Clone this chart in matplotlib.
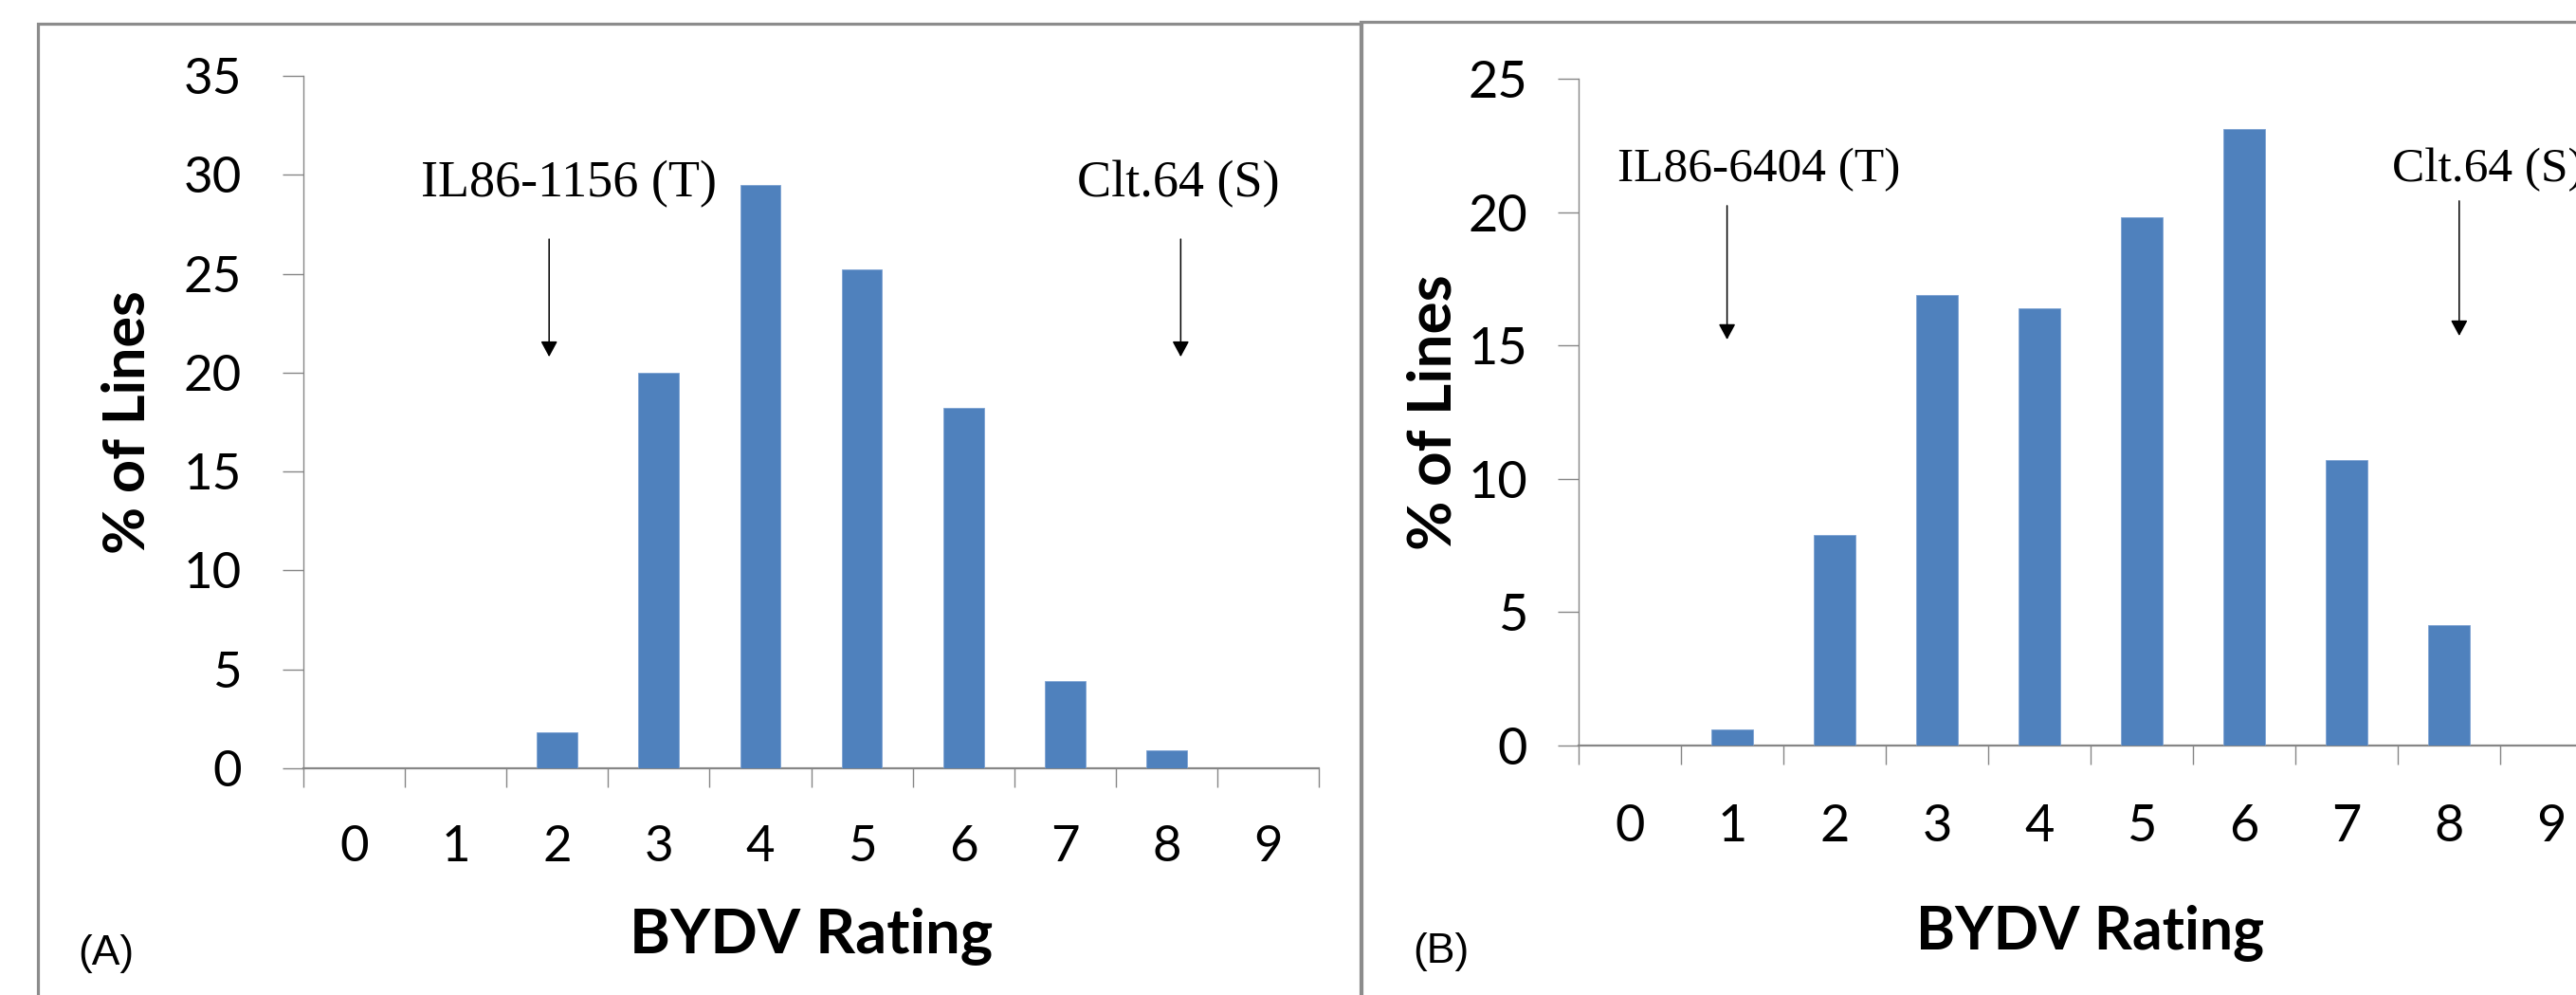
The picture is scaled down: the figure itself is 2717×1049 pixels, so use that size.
"""
BYDV rating distributions for two populations (A) and (B), Excel-style bar charts.
"""
import numpy as np
import matplotlib
matplotlib.use('Agg')
import matplotlib.pyplot as plt
from matplotlib.patches import Rectangle

# ---- data ----
ratings = ['0', '1', '2', '3', '4', '5', '6', '7', '8', '9']
pct_a   = [0, 0, 1.8, 20.0, 29.5, 25.2, 18.2, 4.4, 0.9, 0]
pct_b   = [0, 0.6, 7.9, 16.9, 16.4, 19.8, 23.1, 10.7, 4.5, 0]
ymax_a  = 35
ymax_b  = 25
parents_a = ['IL86-1156 (T)', 'Clt.64 (S)']
parents_b = ['IL86-6404 (T)', 'Clt.64 (S)']

W, H = 2717, 1049
BAR   = '#4F81BD'
AXIS  = '#868686'
FRAME = '#8c8c8c'
PT = 72 / 100   # pixels -> points

plt.rcParams['font.family'] = ['Lato', 'DejaVu Sans']

fig = plt.figure(figsize=(W / 100, H / 100), dpi=100)
fig.patch.set_facecolor('white')


def px_axes(left, top, right, bottom):
    """axes from pixel box (origin top-left)"""
    return fig.add_axes([left / W, 1 - bottom / H, (right - left) / W, (bottom - top) / H])


def draw_panel(ax, values, ymax, tick_fs, ypad, xpad):
    x = np.arange(len(values))
    ax.bar(x, values, width=0.40, color=BAR, edgecolor='#7ea3d3', linewidth=0.6, zorder=3)
    ax.set_xlim(-0.5, len(values) - 0.5)
    ax.set_ylim(0, ymax)

    for s in ('top', 'right'):
        ax.spines[s].set_visible(False)
    ax.spines['left'].set_color(AXIS)
    ax.spines['left'].set_linewidth(1.0)
    ax.spines['bottom'].set_color(AXIS)
    ax.spines['bottom'].set_linewidth(1.6)

    ax.set_yticks(range(0, ymax + 1, 5))
    ax.tick_params(axis='y', direction='out', length=22 * PT, width=1.0, color=AXIS,
                   labelsize=tick_fs, pad=ypad)

    # category boundaries carry the tick marks, centres carry the labels
    ax.set_xticks(np.arange(-0.5, len(values), 1))
    ax.set_xticklabels([])
    ax.set_xticks(x, minor=True)
    ax.set_xticklabels(ratings, minor=True)
    ax.tick_params(axis='x', which='major', direction='out', length=20 * PT, width=1.0, color=AXIS)
    ax.tick_params(axis='x', which='minor', length=0, labelsize=tick_fs, pad=xpad)


# ---- panel A ----
ax_a = px_axes(320, 80, 1391, 810)
draw_panel(ax_a, pct_a, ymax_a, tick_fs=38, ypad=31, xpad=43)
ax_a.set_xlabel('BYDV Rating', fontsize=47, fontweight='bold')
ax_a.xaxis.label.set_va('baseline')
ax_a.xaxis.set_label_coords(0.5, -0.267)
ax_a.set_ylabel('% of Lines', fontsize=44, fontweight='bold')
ax_a.yaxis.label.set_va('center')
ax_a.yaxis.set_label_coords(-0.173, 0.5)

arrow = dict(arrowstyle='-|>,head_length=0.5,head_width=0.27', color='black', lw=1.1,
             shrinkA=0, shrinkB=0, mutation_scale=20)
ax_a.annotate('', xy=(1.92, 20.8), xytext=(1.92, 26.75), arrowprops=arrow)
ax_a.annotate('', xy=(8.14, 20.8), xytext=(8.14, 26.75), arrowprops=arrow)
ax_a.text(2.11, 28.9, parents_a[0], family='Liberation Serif', fontsize=39,
          ha='center', va='baseline')
ax_a.text(8.12, 28.9, parents_a[1], family='Liberation Serif', fontsize=39,
          ha='center', va='baseline')

# ---- panel B (runs off the right edge, as in the source) ----
ax_b = px_axes(1665, 83, 2745, 786)
draw_panel(ax_b, pct_b, ymax_b, tick_fs=39, ypad=23, xpad=44)
ax_b.set_xlabel('BYDV Rating', fontsize=45, fontweight='bold')
ax_b.xaxis.label.set_va('baseline')
ax_b.xaxis.set_label_coords(0.5, -0.304)
ax_b.set_ylabel('% of Lines', fontsize=46, fontweight='bold')
ax_b.yaxis.label.set_va('center')
ax_b.yaxis.set_label_coords(-0.142, 0.5)

ax_b.annotate('', xy=(0.95, 15.22), xytext=(0.95, 20.24), arrowprops=arrow)
ax_b.annotate('', xy=(8.10, 15.36), xytext=(8.10, 20.42), arrowprops=arrow)
ax_b.text(1.26, 21.17, parents_b[0], family='Liberation Serif', fontsize=37,
          ha='center', va='baseline', clip_on=False)
ax_b.text(7.44, 21.17, parents_b[1], family='Liberation Serif', fontsize=37,
          ha='left', va='baseline', clip_on=False)

# ---- panel labels ----
fig.text(112 / W, 1 - 1006 / H, '(A)', family='Liberation Sans', fontsize=32,
         ha='center', va='center')
fig.text(1520 / W, 1 - 1004 / H, '(B)', family='Liberation Sans', fontsize=32,
         ha='center', va='center')

# ---- frames of the two pasted charts ----
fig.add_artist(Rectangle((40 / W, -0.1), (1436 - 40) / W, 1.1 - 25 / H,
                         transform=fig.transFigure, fill=False, ec=FRAME, lw=2.3))
fig.add_artist(Rectangle((1435 / W, -0.1), (2760 - 1435) / W, 1.1 - 23 / H,
                         transform=fig.transFigure, fill=False, ec=FRAME, lw=2.3))

fig.savefig('out.png', dpi=100, facecolor='white')
plt.close(fig)
print('saved out.png')
